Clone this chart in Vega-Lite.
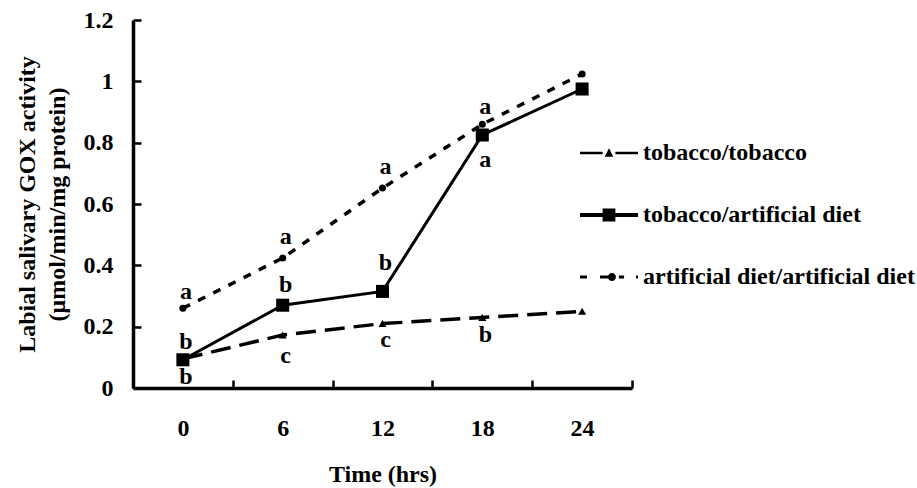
{
  "$schema": "https://vega.github.io/schema/vega-lite/v6.json",
  "autosize": {"type": "none"},
  "padding": {"left": 133, "top": 20, "right": 285, "bottom": 100},
  "width": 499,
  "height": 368,
  "background": "white",
  "config": {
    "view": {"stroke": null},
    "font": "Liberation Serif",
    "axis": {"labelFont": "Liberation Serif", "titleFont": "Liberation Serif", "labelFontWeight": "bold", "titleFontWeight": "bold", "labelColor": "black", "titleColor": "black", "labelFontSize": 24, "titleFontSize": 24, "domainColor": "black", "tickColor": "black", "domainWidth": 3.5, "tickWidth": 2.5, "grid": false}
  },
  "datasets": {
    "series": [
      {"time": "0", "series": "tobacco/tobacco", "value": 0.095},
      {"time": "6", "series": "tobacco/tobacco", "value": 0.173},
      {"time": "12", "series": "tobacco/tobacco", "value": 0.21},
      {"time": "18", "series": "tobacco/tobacco", "value": 0.23},
      {"time": "24", "series": "tobacco/tobacco", "value": 0.25},
      {"time": "0", "series": "tobacco/artificial diet", "value": 0.092},
      {"time": "6", "series": "tobacco/artificial diet", "value": 0.27},
      {"time": "12", "series": "tobacco/artificial diet", "value": 0.315},
      {"time": "18", "series": "tobacco/artificial diet", "value": 0.825},
      {"time": "24", "series": "tobacco/artificial diet", "value": 0.975},
      {"time": "0", "series": "artificial diet/artificial diet", "value": 0.26},
      {"time": "6", "series": "artificial diet/artificial diet", "value": 0.424},
      {"time": "12", "series": "artificial diet/artificial diet", "value": 0.652},
      {"time": "18", "series": "artificial diet/artificial diet", "value": 0.86},
      {"time": "24", "series": "artificial diet/artificial diet", "value": 1.024}
    ],
    "letters": [
      {"time": "0", "letter": "b", "pos": 0.036},
      {"time": "6", "letter": "c", "pos": 0.104},
      {"time": "12", "letter": "c", "pos": 0.157},
      {"time": "18", "letter": "b", "pos": 0.173},
      {"time": "0", "letter": "b", "pos": 0.15},
      {"time": "6", "letter": "b", "pos": 0.336},
      {"time": "12", "letter": "b", "pos": 0.408},
      {"time": "18", "letter": "a", "pos": 0.743},
      {"time": "0", "letter": "a", "pos": 0.313},
      {"time": "6", "letter": "a", "pos": 0.492},
      {"time": "12", "letter": "a", "pos": 0.72},
      {"time": "18", "letter": "a", "pos": 0.916}
    ]
  },
  "encoding": {
    "x": {"field": "time", "type": "ordinal", "sort": ["0", "6", "12", "18", "24"],
      "scale": {"type": "band", "paddingInner": 0, "paddingOuter": 0},
      "axis": {"title": "Time (hrs)", "labelAngle": 0, "tickBand": "extent", "tickSize": -8, "labelPadding": 36, "titlePadding": 22}},
    "y": {"field": "value", "type": "quantitative",
      "scale": {"domain": [0, 1.2], "nice": false, "zero": true},
      "axis": {"title": ["Labial salivary GOX activity", "(μmol/min/mg protein)"], "values": [0, 0.2, 0.4, 0.6, 0.8, 1, 1.2], "format": "~g", "tickSize": -8, "labelPadding": 28, "titlePadding": 14, "titleLineHeight": 30}}
  },
  "layer": [
    {
      "data": {"name": "series"},
      "transform": [{"filter": "datum.series === 'tobacco/tobacco'"}],
      "mark": {"type": "line", "color": "black", "strokeWidth": 3.5, "strokeDash": [20, 9]},
      "encoding": {}
    },
    {
      "data": {"name": "series"},
      "transform": [{"filter": "datum.series === 'tobacco/artificial diet'"}],
      "mark": {"type": "line", "color": "black", "strokeWidth": 3},
      "encoding": {}
    },
    {
      "data": {"name": "series"},
      "transform": [{"filter": "datum.series === 'artificial diet/artificial diet'"}],
      "mark": {"type": "line", "color": "black", "strokeWidth": 3.5, "strokeDash": [8, 9]},
      "encoding": {}
    },
    {
      "data": {"name": "series"},
      "transform": [{"filter": "datum.series === 'tobacco/tobacco'"}],
      "mark": {"type": "point", "filled": true, "color": "black", "opacity": 1, "shape": "triangle-up", "size": 65},
      "encoding": {}
    },
    {
      "data": {"name": "series"},
      "transform": [{"filter": "datum.series === 'tobacco/artificial diet'"}],
      "mark": {"type": "point", "filled": true, "color": "black", "opacity": 1, "shape": "square", "size": 170},
      "encoding": {}
    },
    {
      "data": {"name": "series"},
      "transform": [{"filter": "datum.series === 'artificial diet/artificial diet'"}],
      "mark": {"type": "point", "filled": true, "color": "black", "opacity": 1, "shape": "circle", "size": 50},
      "encoding": {}
    },
    {
      "data": {"name": "series"},
      "transform": [{"filter": "datum.value < 0"}],
      "mark": {"type": "point", "filled": true, "color": "black", "size": 3364},
      "encoding": {
        "shape": {"field": "series", "type": "nominal",
          "scale": {"domain": ["tobacco/tobacco", "tobacco/artificial diet", "artificial diet/artificial diet"],
            "range": [
              "M-1,-0.045H-0.22V0.045H-1Z M0.22,-0.045H1V0.045H0.22Z M0,-0.16L0.15,0.13L-0.15,0.13Z",
              "M-1,-0.07H1V0.07H-1Z M-0.22,-0.22H0.22V0.22H-0.22Z",
              "M-1,-0.05H-0.76V0.05H-1Z M-0.31,-0.05H0.17V0.05H-0.31Z M0.34,-0.05H0.52V0.05H0.34Z M0.93,-0.05H1V0.05H0.93Z M0.24,0A0.14,0.14,0,1,1,-0.04,0A0.14,0.14,0,1,1,0.24,0Z"
            ]},
          "legend": {
            "orient": "none", "legendX": 447, "legendY": 104, "title": null, "padding": 0,
            "labelFont": "Liberation Serif", "labelFontSize": 24, "labelFontWeight": "bold", "labelColor": "black",
            "labelLimit": 400, "labelOffset": 5, "rowPadding": 21, "symbolSize": 3364,
            "symbolFillColor": "black", "symbolOpacity": 1, "symbolStrokeWidth": 0
          }}
      }
    },
    {
      "data": {"name": "letters"},
      "mark": {"type": "text", "font": "Liberation Serif", "fontSize": 24, "fontWeight": "bold", "color": "black", "baseline": "middle", "dx": 3},
      "encoding": {
        "y": {"field": "pos", "type": "quantitative"},
        "text": {"field": "letter"}
      }
    }
  ]
}
